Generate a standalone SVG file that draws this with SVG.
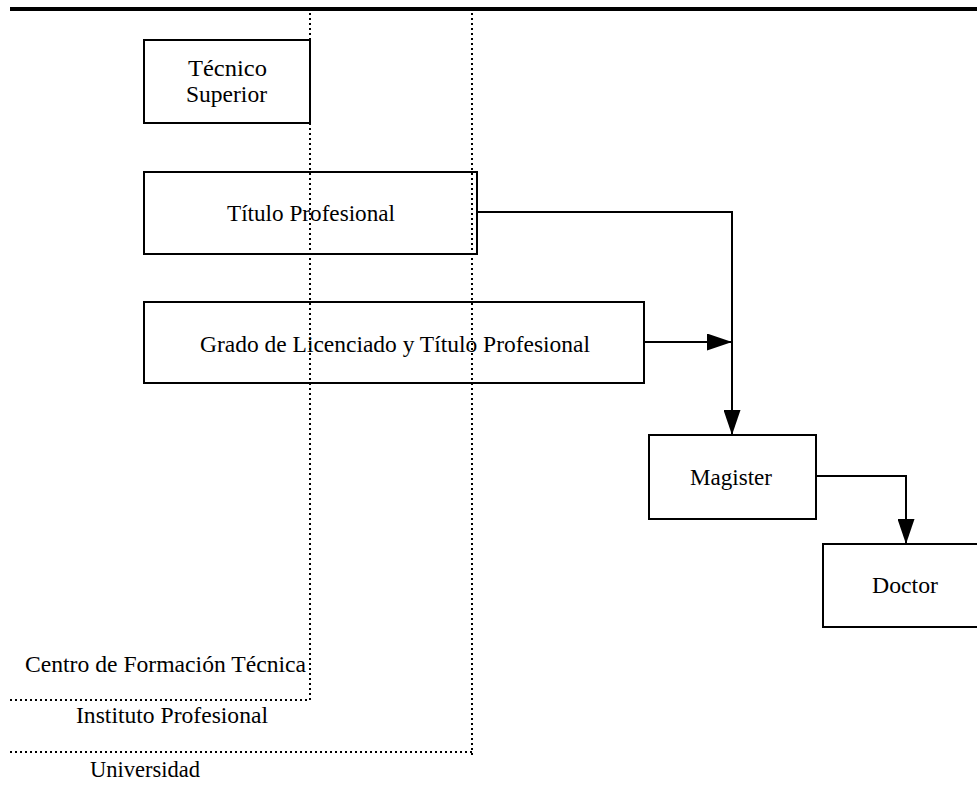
<svg xmlns="http://www.w3.org/2000/svg" width="977" height="804" viewBox="0 0 977 804">
<style>
.box{fill:#fff;stroke:#000;stroke-width:2}
text{font-family:'Liberation Serif','Times New Roman','DejaVu Serif',serif;font-size:23px;fill:#000}
.dot{fill:none;stroke:#000;stroke-width:2;stroke-dasharray:2 3}
.con{fill:none;stroke:#000;stroke-width:2}
</style>
<defs>
<marker id="ah" markerWidth="25" markerHeight="17" refX="25" refY="8.5" orient="auto" markerUnits="userSpaceOnUse">
<path d="M0,0 L25,8.5 L0,17 Z" fill="#000"/>
</marker>
</defs>
<rect width="977" height="804" fill="#fff"/>
<line x1="10" y1="9" x2="977" y2="9" stroke="#000" stroke-width="4"/>
<g id="zones">
<path class="dot" d="M310,13 V700 M472,13 V757 M10,700 H310 M10,752 H472"/>
<text x="25" y="672" textLength="281" lengthAdjust="spacingAndGlyphs">Centro de Formación Técnica</text>
<text x="76" y="723" textLength="192" lengthAdjust="spacingAndGlyphs">Instituto Profesional</text>
<text x="90" y="777" textLength="110" lengthAdjust="spacingAndGlyphs">Universidad</text>
</g>
<g id="tecnico">
<rect class="box" x="144" y="40" width="166" height="83"/>
<text x="188" y="76" textLength="79" lengthAdjust="spacingAndGlyphs">Técnico</text>
<text x="186" y="102" textLength="81" lengthAdjust="spacingAndGlyphs">Superior</text>
</g>
<g id="titulo">
<rect class="box" x="144" y="172" width="333" height="82" fill-opacity="0"/>
<text x="227" y="221" textLength="168" lengthAdjust="spacingAndGlyphs">Título Profesional</text>
</g>
<g id="grado">
<rect class="box" x="144" y="302" width="500" height="81" fill-opacity="0"/>
<text x="200" y="352" textLength="390" lengthAdjust="spacingAndGlyphs">Grado de Licenciado y Título Profesional</text>
</g>
<g id="magister">
<rect class="box" x="649" y="435" width="167" height="84"/>
<text x="690" y="485" textLength="82" lengthAdjust="spacingAndGlyphs">Magister</text>
</g>
<g id="doctor">
<rect class="box" x="823" y="544" width="160" height="83"/>
<text x="872" y="593" textLength="66" lengthAdjust="spacingAndGlyphs">Doctor</text>
</g>
<g id="connectors">
<path class="con" d="M477,212 H732 V435" marker-end="url(#ah)"/>
<path class="con" d="M644,342 H732" marker-end="url(#ah)"/>
<path class="con" d="M816,476 H906 V544" marker-end="url(#ah)"/>
</g>
</svg>
